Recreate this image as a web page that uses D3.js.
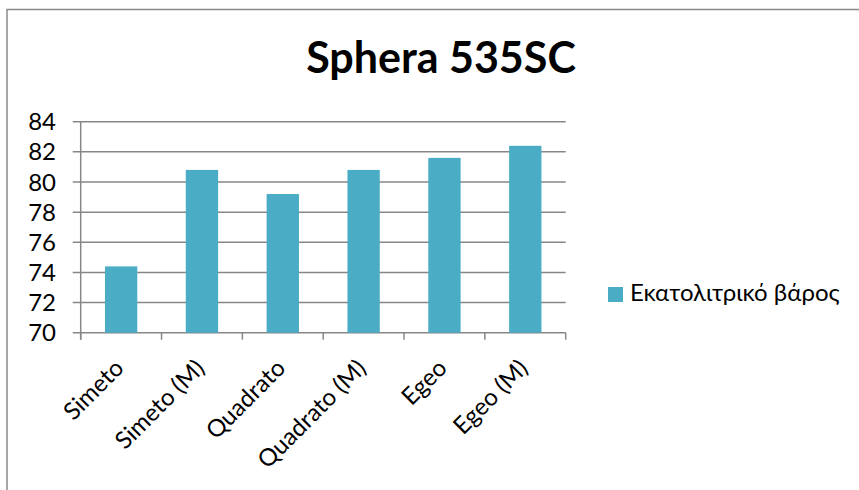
<!DOCTYPE html>
<html><head><meta charset="utf-8">
<script src="https://cdn.jsdelivr.net/npm/d3@7"></script>
<style>body{margin:0;background:#fff}svg{display:block}</style>
</head><body>
<script>
const categories = ["Simeto","Simeto (M)","Quadrato","Quadrato (M)","Egeo","Egeo (M)"];
const values = [74.4, 80.8, 79.2, 80.8, 81.6, 82.4];
const yTicks = [70,72,74,76,78,80,82,84];
const seriesName = "Εκατολιτρικό βάρος";
const title = "Sphera 535SC";

const W = 859, H = 490;
const svg = d3.select("body").append("svg").attr("width", W).attr("height", H)
  .style("font-family", "Lato, 'Open Sans', sans-serif");
svg.append("rect").attr("width", W).attr("height", H).attr("fill", "#fff");
svg.append("rect").attr("x", 7).attr("y", 9.5).attr("width", W + 20).attr("height", H + 20)
  .attr("fill", "none").attr("stroke", "#8a8a8a").attr("stroke-width", 1.5);

const x0 = 80.7, x1 = 565.7, yTop = 121.7, yBot = 332.7;
const x = d3.scaleBand().domain(categories).range([x0, x1]).paddingInner(0.6).paddingOuter(0.3);
const xb = d3.scaleBand().domain(categories).range([x0, x1]);
const y = d3.scaleLinear().domain([70, 84]).range([yBot, yTop]);

// gridlines
svg.append("g").selectAll("line").data(yTicks).join("line")
  .attr("x1", x0 - 8).attr("x2", x1).attr("y1", d => y(d)).attr("y2", d => y(d))
  .attr("stroke", "#878787").attr("stroke-width", 1.5);
// y axis line
svg.append("line").attr("x1", x0).attr("x2", x0).attr("y1", yTop).attr("y2", yBot + 7)
  .attr("stroke", "#878787").attr("stroke-width", 1.5);
// x tick marks
const xTickPos = categories.map(c => xb(c)).concat([x1]);
svg.append("g").selectAll("line").data(xTickPos).join("line")
  .attr("x1", d => d).attr("x2", d => d).attr("y1", yBot).attr("y2", yBot + 7)
  .attr("stroke", "#878787").attr("stroke-width", 1.5);

// bars
svg.append("g").selectAll("rect").data(values).join("rect")
  .attr("x", (d, i) => x(categories[i])).attr("width", x.bandwidth())
  .attr("y", d => y(d)).attr("height", d => yBot - y(d))
  .attr("fill", "#4BACC6");

// y labels
svg.append("g").selectAll("text").data(yTicks).join("text")
  .attr("x", 56).attr("y", d => y(d)).attr("dy", "0.36em")
  .attr("text-anchor", "end").attr("font-size", 24).attr("fill", "#000")
  .text(d => d);

// x labels
svg.append("g").selectAll("text").data(categories).join("text")
  .attr("text-anchor", "end").attr("font-size", 24).attr("fill", "#000")
  .attr("transform", c => `translate(${xb(c) + xb.bandwidth() / 2 + 4},${yBot + 37}) rotate(-45)`)
  .text(c => c);

// title
svg.append("text").attr("x", 441).attr("y", 73).attr("text-anchor", "middle")
  .attr("font-size", 43).attr("font-weight", "bold").attr("fill", "#000").text(title);

// legend
svg.append("rect").attr("x", 608).attr("y", 287).attr("width", 15).attr("height", 15).attr("fill", "#4BACC6");
svg.append("text").attr("x", 630).attr("y", 301).attr("font-size", 24).attr("fill", "#000").text(seriesName);
</script>
</body></html>
